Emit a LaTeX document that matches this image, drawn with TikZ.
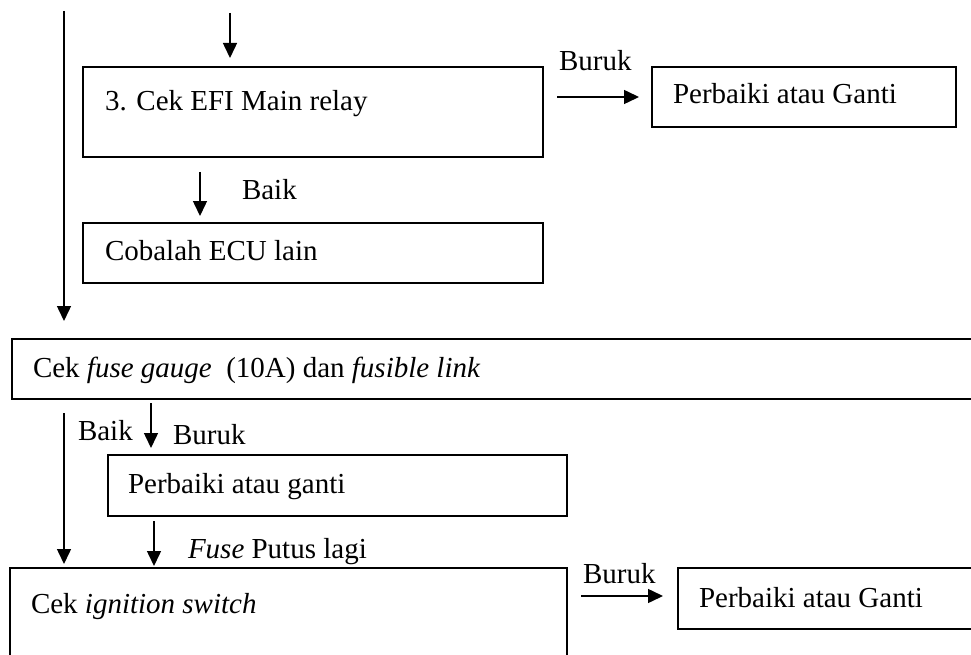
\documentclass[tikz,border=0pt]{standalone}
\usepackage{fontspec}
\setmainfont{Liberation Serif}
\usetikzlibrary{arrows.meta}
\begin{document}
\begin{tikzpicture}[x=1pt,y=-1pt,
  box/.style={draw, line width=1.6pt, rectangle, inner sep=0pt, outer sep=0pt, anchor=north west},
  txt/.style={anchor=base west, inner sep=0pt, outer sep=0pt, font=\fontsize{29}{34}\selectfont},
  arr/.style={line width=1.5pt, -{Triangle[length=15pt,width=14pt]}}]
\useasboundingbox (0,0) rectangle (971,655);
\clip (0,0) rectangle (971,655);
% boxes
\node[box, minimum width=460pt, minimum height=90pt] (boxA) at (83,67) {};
\node[box, minimum width=304pt, minimum height=60pt] (pg1) at (652,67) {};
\node[box, minimum width=460pt, minimum height=60pt] (boxB) at (83,223) {};
\node[box, minimum width=975pt, minimum height=60pt] (boxC) at (12,339) {};
\node[box, minimum width=459pt, minimum height=61pt] (boxD) at (108,455) {};
\node[box, minimum width=557pt, minimum height=110pt] (boxE) at (10,568) {};
\node[box, minimum width=310pt, minimum height=61pt] (pg2) at (678,568) {};
% texts
\node[txt] (tA) at (105,111) {3. Cek EFI Main relay};
\node[txt] (tPG1) at (673,104) {Perbaiki atau Ganti};
\node[txt] (lBuruk1) at (559,71) {Buruk};
\node[txt] (lBaik1) at (242,200) {Baik};
\node[txt] (tB) at (105,260) {Cobalah ECU lain};
\node[txt] (tC) at (33,377) {Cek \textit{fuse gauge}\ \ (10A) dan \textit{fusible link}};
\node[txt] (lBaik2) at (78,440) {Baik};
\node[txt] (lBuruk2) at (173,444) {Buruk};
\node[txt] (tD) at (128,493) {Perbaiki atau ganti};
\node[txt] (lFuse) at (188,558) {\textit{Fuse} Putus lagi};
\node[txt] (tE) at (31,613) {Cek \textit{ignition switch}};
\node[txt] (lBuruk3) at (583,583) {Buruk};
\node[txt] (tPG2) at (699,607) {Perbaiki atau Ganti};
% connectors
\coordinate (lt) at (64,11);
\coordinate (top) at (230,13);
\draw[arr] (lt) -- ([xshift=52pt,yshift=18pt]boxC.north west);
\draw[arr] (top) -- ([xshift=147pt,yshift=9pt]boxA.north west);
\draw[arr] ([xshift=14pt,yshift=-30pt]boxA.north east) -- ([xshift=-13pt,yshift=-30pt]pg1.north west);
\draw[arr] ([xshift=117pt,yshift=-15pt]boxA.south west) -- ([xshift=117pt,yshift=7pt]boxB.north west);
\draw[arr] ([xshift=52pt,yshift=-14pt]boxC.south west) -- ([xshift=54pt,yshift=4pt]boxE.north west);
\draw[arr] ([xshift=139pt,yshift=-4pt]boxC.south west) -- ([xshift=43pt,yshift=7pt]boxD.north west);
\draw[arr] ([xshift=46pt,yshift=-5pt]boxD.south west) -- ([xshift=144pt,yshift=2pt]boxE.north west);
\draw[arr] ([xshift=14pt,yshift=-28pt]boxE.north east) -- ([xshift=-15pt,yshift=-28pt]pg2.north west);
\end{tikzpicture}
\end{document}
